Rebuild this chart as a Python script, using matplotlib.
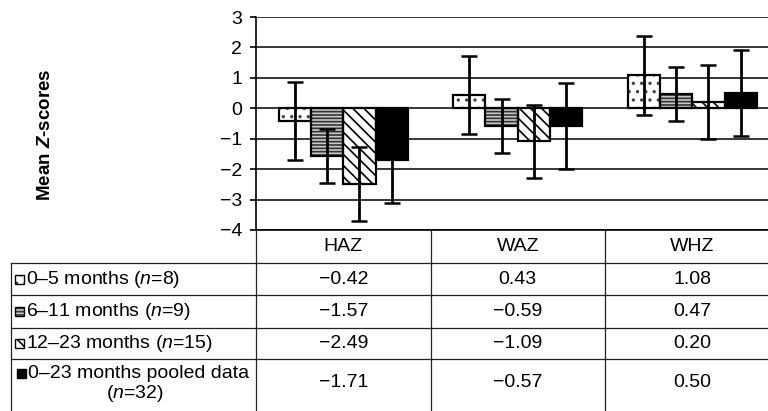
import numpy as np
import matplotlib
matplotlib.use('Agg')
import matplotlib.pyplot as plt
from matplotlib.patches import Rectangle

plt.rcParams['font.family'] = 'Liberation Sans'
plt.rcParams['mathtext.fontset'] = 'custom'
plt.rcParams['mathtext.rm'] = 'Liberation Sans'
plt.rcParams['mathtext.it'] = 'Liberation Sans:italic'
plt.rcParams['mathtext.bf'] = 'Liberation Sans:bold'
plt.rcParams['mathtext.bfit'] = 'Liberation Sans:bold:italic'
plt.rcParams['hatch.linewidth'] = 1.2

# data
indicators = ['HAZ', 'WAZ', 'WHZ']
group_line1 = ['0–5 months ($n$=8)', '6–11 months ($n$=9)', '12–23 months ($n$=15)', '0–23 months pooled data']
group_line2 = ['', '', '', '($n$=32)']
means = [[-0.42, 0.43, 1.08],
         [-1.57, -0.59, 0.47],
         [-2.49, -1.09, 0.20],
         [-1.71, -0.57, 0.50]]
sds = [[1.29, 1.28, 1.29],
       [0.88, 0.89, 0.88],
       [1.22, 1.20, 1.21],
       [1.40, 1.41, 1.42]]

# bar looks: facecolor, hatch, hatch colour
looks = [('white', '..', '#444444'),
         ('#c8c8c8', '-----', '#333333'),
         ('white', '\\\\\\', 'black'),
         ('black', None, 'black')]

W, H = 768, 411
fig = plt.figure(figsize=(W / 100, H / 100), dpi=100)

# chart area in pixel terms (right side runs past the figure edge)
left, top, bottom = 256, 17, 230
col_w = 174.5
ax = fig.add_axes([left / W, (H - bottom) / H, 3 * col_w / W, (bottom - top) / H])

x = np.arange(len(indicators))
bw = 0.185
for i in range(len(means)):
    fc, hatch, hc = looks[i]
    pos = x + (i - 1.5) * bw
    ax.bar(pos, means[i], bw, color=fc, edgecolor=hc, hatch=hatch, linewidth=0, zorder=2)
    ax.bar(pos, means[i], bw, fill=False, edgecolor='black', linewidth=1.6, zorder=3)
    ax.errorbar(pos, means[i], yerr=sds[i], fmt='none', ecolor='black',
                elinewidth=2, capsize=6, capthick=1.8, zorder=4)

ax.set_xlim(-0.5, 2.5)
ax.set_ylim(-4, 3)
ax.set_yticks(range(-4, 4))
ax.set_xticks([])
ax.yaxis.grid(True, color='black', linewidth=1.1)
ax.set_axisbelow(True)
for s in ['top', 'right']:
    ax.spines[s].set_visible(False)
ax.spines['left'].set_linewidth(1.2)
ax.spines['bottom'].set_linewidth(1.2)
ax.tick_params(axis='y', length=4, width=1.2, pad=6, labelsize=14)

fig.text(45 / W, 1 - 135 / H, r'Mean $\mathbfit{Z}$-scores', rotation=90,
         ha='center', va='center', fontsize=13.5, fontweight='bold')

# data table below the chart
tb = fig.add_axes([0, 0, 1, 1])
tb.set_xlim(0, W)
tb.set_ylim(H, 0)
tb.axis('off')
tb.patch.set_alpha(0)

row_edges = [263, 295, 328, 359]
col_edges = [256, 256 + col_w, 256 + 2 * col_w]
lc = '#222222'
for y in row_edges:
    tb.plot([11, W], [y, y], color=lc, lw=0.9)
tb.plot([11, 11], [263, H], color=lc, lw=0.9)
for cx in col_edges:
    tb.plot([cx, cx], [230, H], color=lc, lw=0.9)

fs = 14
for j, name in enumerate(indicators):
    tb.text(256 + col_w * (j + 0.5), 246, name, ha='center', va='center', fontsize=fs)

row_mid = [279, 311, 343, 382]
for i in range(len(means)):
    fc, hatch, hc = looks[i]
    ymid = row_mid[i]
    y1 = 373 if group_line2[i] else ymid
    kx = 17 if group_line2[i] else 15
    tb.add_patch(Rectangle((kx, y1 - 4.5), 9, 9, facecolor=fc, edgecolor=hc,
                           hatch=hatch, linewidth=0))
    tb.add_patch(Rectangle((kx, y1 - 4.5), 9, 9, fill=False, edgecolor='black', linewidth=1))
    tb.text(kx + 11, y1, group_line1[i], ha='left', va='center', fontsize=fs)
    if group_line2[i]:
        tb.text(135, 393, group_line2[i], ha='center', va='center', fontsize=fs)
    for j in range(len(indicators)):
        txt = f'{means[i][j]:.2f}'.replace('-', '\u2212')
        tb.text(256 + col_w * (j + 0.5), ymid, txt, ha='center', va='center', fontsize=fs)

fig.savefig('out.png', dpi=100)
